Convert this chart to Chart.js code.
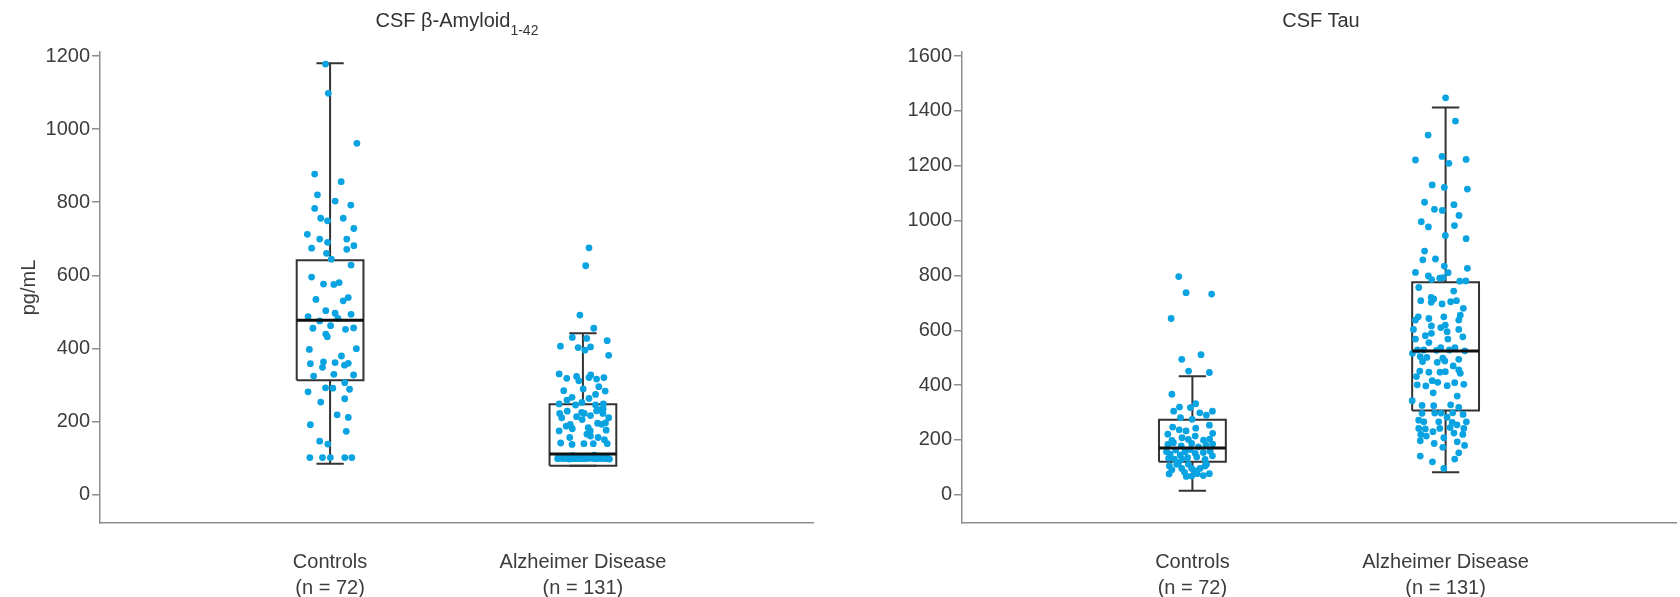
<!DOCTYPE html>
<html>
<head>
<meta charset="utf-8">
<script src="https://cdn.jsdelivr.net/npm/chart.js@4.4.1/dist/chart.umd.min.js"></script>
<style>
    html, body { margin: 0; padding: 0; background: #fff; }
    #wrap { position: relative; width: 1680px; height: 597px; overflow: hidden;
            font-family: "Liberation Sans", Arial, sans-serif; color: #333; }
    canvas { position: absolute; top: 0; }
    .title { position: absolute; top: 9px; font-size: 20px; white-space: nowrap;
             transform: translateX(-50%); line-height: 23px; }
    .title .sub { font-size: 14px; position: relative; top: 8px; }
</style>
</head>
<body>
<div id="wrap">
    <canvas id="amyloid" width="830" height="597" style="left:0"></canvas>
    <canvas id="tau" width="840" height="597" style="left:840px"></canvas>
    <div class="title" style="left:457px">CSF β-Amyloid<span class="sub">1-42</span></div>
    <div class="title" style="left:1321px">CSF Tau</div>
</div>
<script>
'use strict';

const categories = ['Controls', 'Alzheimer Disease'];
const groupSizes = ['(n = 72)', '(n = 131)'];

const amyloidTicks = [0, 200, 400, 600, 800, 1000, 1200];
const tauTicks = [0, 200, 400, 600, 800, 1000, 1200, 1400, 1600];

// box stats: [lower whisker, q1, median, q3, upper whisker]
const amyloidBoxControls = [84, 313, 477, 641, 1180];
const amyloidBoxAD = [79, 79, 111, 247, 441];
const tauBoxControls = [15, 120, 171, 274, 432];
const tauBoxAD = [82, 307, 524, 775, 1413];

// individual subjects (pg/mL) and their horizontal jitter around the category
const amyloidControls = [1178, 1098, 961, 877, 856, 820, 803, 792, 783, 756,
    749, 756, 728, 712, 699, 690, 699, 674, 660, 671,
    681, 644, 628, 595, 576, 575, 580, 534, 530, 539,
    487, 503, 496, 482, 493, 475, 455, 462, 452, 456,
    439, 432, 397, 399, 379, 358, 363, 348, 361, 354,
    359, 324, 329, 327, 306, 281, 292, 291, 288, 253,
    262, 218, 211, 191, 173, 146, 138, 101, 101, 101,
    101, 101];
const amyloidControlsJitter = [-0.018, -0.007, 0.106, -0.061, 0.044, -0.050, 0.020, 0.082, -0.061, -0.037,
    -0.010, 0.052, 0.094, -0.090, -0.041, -0.010, 0.066, -0.073, -0.014, 0.066,
    0.094, 0.005, 0.083, -0.073, -0.026, 0.015, 0.036, -0.056, 0.052, 0.072,
    -0.087, -0.017, 0.020, 0.031, 0.083, -0.041, -0.068, 0.002, 0.061, 0.093,
    -0.017, -0.011, -0.082, 0.104, 0.045, -0.078, -0.026, -0.030, 0.020, 0.057,
    0.072, -0.065, 0.015, 0.093, 0.058, -0.087, -0.018, 0.011, 0.077, -0.037,
    0.058, 0.028, 0.072, -0.078, 0.064, -0.041, -0.009, -0.080, -0.030, 0.001,
    0.058, 0.086];

const amyloidAD = [675, 626, 491, 455, 430, 427, 406, 402, 395, 404,
    421, 381, 330, 318, 323, 311, 320, 327, 316, 320,
    284, 289, 283, 266, 263, 274, 248, 245, 248, 245,
    258, 295, 252,
    228, 222, 225, 222, 232, 234, 229, 210, 213, 216,
    222, 210, 192, 187, 205, 195, 192, 196, 174, 180,
    183, 174, 176, 156, 165, 160, 156, 150, 141, 137,
    139, 139, 139,
    98, 100, 99, 101, 98, 100, 102, 99, 97, 100,
    101, 98, 100, 99, 103, 100, 98, 101, 99, 100,
    98, 100, 102, 99, 101, 100, 97, 99, 100, 101,
    98, 100, 99, 102, 100, 98, 101, 100, 99, 100,
    104, 99, 101, 98, 100, 100, 102, 99, 98, 101,
    100, 99, 100, 98, 101, 103, 100, 99, 100, 98,
    101, 100, 99, 106, 108];
const amyloidADJitter = [0.024, 0.011, -0.012, 0.043, -0.042, 0.015, -0.089, -0.019, 0.008, 0.030,
    0.096, 0.102, -0.094, -0.064, -0.025, -0.016, 0.024, 0.031, 0.054, 0.083,
    -0.076, 0.001, 0.088, -0.043, 0.024, 0.050, -0.094, -0.029, 0.081, 0.050,
    -0.063, 0.063, -0.004,
    -0.062, -0.092, -0.005, 0.005, 0.067, 0.080, 0.054, -0.084, -0.025, 0.030,
    0.079, 0.102, -0.050, -0.066, -0.003, 0.058, 0.074, 0.089, -0.094, -0.042,
    0.021, 0.029, 0.092, -0.052, 0.016, 0.030, 0.060, 0.085, -0.088, -0.043,
    0.004, 0.041, 0.096,
    -0.100, -0.074, -0.048, -0.022, 0.004, 0.030, 0.056, 0.082, 0.105, -0.087,
    -0.061, -0.035, -0.009, 0.017, 0.043, 0.069, 0.095, -0.095, -0.068, -0.042,
    -0.015, 0.010, 0.036, 0.062, 0.088, -0.080, -0.054, -0.028, -0.002, 0.024,
    0.050, 0.076, 0.100, -0.092, -0.066, -0.040, -0.014, 0.012, 0.038, 0.064,
    0.090, -0.083, -0.057, -0.031, -0.005, 0.021, 0.047, 0.073, 0.098, -0.097,
    -0.071, -0.045, -0.019, 0.007, 0.033, 0.059, 0.085, -0.077, -0.051, -0.025,
    0.001, 0.027, 0.053, -0.040, 0.045];

const tauControls = [796, 737, 732, 643, 494, 511, 451, 446, 367, 305,
    320, 318, 332, 299, 305, 281, 275, 290,
    247, 237, 233, 243, 254, 224, 221, 198, 208, 202,
    214, 199, 203, 184, 190, 178, 187, 175, 181, 185,
    157, 148, 163, 145, 157, 165, 151, 154, 159, 142,
    133, 130, 135, 138, 129, 130,
    105, 111, 82, 68, 77, 105, 77, 76, 67, 96,
    96, 111, 115, 91, 87, 96, 111, 70];
const tauControlsJitter = [-0.054, -0.025, 0.076, -0.084, -0.042, 0.034, -0.015, 0.067, -0.081, -0.074,
    -0.051, -0.008, 0.013, 0.029, 0.079, -0.047, -0.001, 0.055,
    -0.078, -0.052, -0.025, 0.013, 0.067, 0.080, -0.097, -0.081, -0.041, -0.016,
    0.011, 0.044, 0.068, -0.097, -0.075, -0.044, -0.003, 0.024, 0.054, 0.080,
    -0.102, -0.088, -0.066, -0.048, -0.029, -0.009, 0.011, 0.043, 0.070, 0.079,
    -0.094, -0.071, -0.019, 0.017, 0.050, -0.042,
    -0.091, -0.062, -0.031, -0.003, 0.019, 0.050, 0.067, -0.092, -0.024, -0.003,
    0.030, 0.056, -0.055, -0.081, 0.011, -0.042, -0.016, 0.043];

const tauAD = [1448, 1363, 1312, 1221, 1234, 1209, 1223, 1130, 1121, 1115,
    1067, 1041, 1037, 1058, 1019, 996, 977, 982, 946, 934,
    889, 857, 860, 834, 826, 811, 798, 810, 790, 779,
    785, 792, 780,
    756, 743, 708, 720, 714, 702, 696, 704, 708, 637,
    649, 643, 649, 637, 655, 616, 610, 619, 603, 603,
    568, 589, 595, 568, 576, 555, 528, 528, 527, 537,
    528, 537, 525, 516, 504, 501, 483, 498, 488, 494,
    486, 451, 447, 447, 449, 455, 443, 431, 416, 410,
    409, 403, 397, 401, 398, 372, 360, 343, 326, 325,
    328, 319, 680, 470, 580,
    297, 298, 298, 299, 293, 272, 266, 266, 264, 266,
    242, 242, 245, 242, 240, 220, 214, 208, 225, 220,
    197, 187, 193, 173, 141, 120, 130, 153, 96, 283,
    255, 230, 180];
const tauADJitter = [0.000, 0.039, -0.069, -0.119, -0.014, 0.013, 0.081, -0.053, -0.005, 0.086,
    -0.083, -0.044, -0.013, 0.033, 0.053, -0.096, -0.068, 0.035, -0.001, 0.081,
    -0.083, -0.090, -0.040, -0.005, 0.086, -0.119, -0.068, 0.010, -0.023, 0.056,
    -0.055, -0.011, 0.080,
    -0.106, 0.032, -0.098, -0.057, -0.047, -0.057, -0.014, 0.020, 0.043, -0.119,
    -0.108, -0.066, -0.007, 0.052, 0.058, -0.056, -0.019, -0.001, -0.127, 0.052,
    -0.119, -0.056, 0.006, 0.009, 0.068, -0.066, -0.111, -0.086, -0.036, -0.019,
    0.015, 0.037, 0.076, -0.131, -0.100, -0.074, -0.033, -0.011, -0.003, 0.052,
    -0.091, -0.102, -0.066, -0.022, -0.001, 0.052, 0.058, -0.115, -0.053, -0.031,
    0.036, 0.072, -0.078, -0.112, 0.006, -0.049, 0.046, -0.132, -0.093, -0.047,
    0.020, 0.052, 0.070, 0.030, -0.080,
    -0.093, -0.043, -0.018, 0.028, 0.069, -0.106, -0.086, -0.027, 0.026, 0.082,
    -0.106, -0.023, 0.018, 0.072, -0.080, -0.098, -0.076, -0.007, 0.033, 0.068,
    -0.100, -0.045, 0.046, -0.011, -0.100, -0.052, 0.036, 0.052, -0.007, 0.006,
    0.045, -0.050, 0.075];

const FONT = { family: '"Liberation Sans", Arial, sans-serif', size: 20 };
const TEXT = '#3c3c3c';
const AXIS = '#8e8e8e';
const DOT = '#0aa3e2';
const BOX_HALF = 0.132;
const CAP_HALF = 0.054;

function lineSet(data, color, width, order) {
    return {
        type: 'line', data, borderColor: color, borderWidth: width,
        pointRadius: 0, showLine: true, fill: false, tension: 0,
        spanGaps: false, borderJoinStyle: 'miter', borderCapStyle: 'butt', order
    };
}

function boxDatasets(stats, xc) {
    const [mn, q1, md, q3, mx] = stats;
    const l = xc - BOX_HALF, r = xc + BOX_HALF;
    return [
        lineSet([{x: xc, y: mn}, {x: xc, y: q1}, {x: xc, y: null}, {x: xc, y: q3}, {x: xc, y: mx}], '#333', 2, 4),
        lineSet([{x: xc - CAP_HALF, y: mn}, {x: xc + CAP_HALF, y: mn}, {x: xc, y: null},
                 {x: xc - CAP_HALF, y: mx}, {x: xc + CAP_HALF, y: mx}], '#333', 2, 4),
        lineSet([{x: l, y: q1}, {x: r, y: q1}, {x: r, y: q3}, {x: l, y: q3}, {x: l, y: q1}], '#333', 2, 3),
        lineSet([{x: l, y: md}, {x: r, y: md}], '#111', 3, 0)
    ];
}

function dotSet(values, jitter, xc) {
    return {
        type: 'scatter',
        data: values.map((v, i) => ({x: xc + jitter[i], y: v})),
        backgroundColor: DOT, borderWidth: 0, pointRadius: 3.4, order: 1
    };
}

function makePanel(id, cfg) {
    const datasets = [
        ...boxDatasets(cfg.boxes[0], 1),
        ...boxDatasets(cfg.boxes[1], 2),
        dotSet(cfg.points[0], cfg.jitter[0], 1),
        dotSet(cfg.points[1], cfg.jitter[1], 2)
    ];
    return new Chart(document.getElementById(id), {
        type: 'scatter',
        data: { datasets },
        options: {
            responsive: false,
            animation: false,
            events: [],
            layout: { padding: { top: 52, right: cfg.padRight, left: 0, bottom: 0 } },
            plugins: { legend: { display: false }, tooltip: { enabled: false } },
            scales: {
                x: {
                    type: 'linear', min: 0.09, max: 2.91,
                    afterFit: s => { s.height = 74; },
                    afterBuildTicks: s => { s.ticks = [{value: 1}, {value: 2}]; },
                    ticks: {
                        callback: v => [categories[v - 1], groupSizes[v - 1]],
                        font: { ...FONT, lineHeight: 1.3 }, color: TEXT, padding: 26,
                        maxRotation: 0, autoSkip: false
                    },
                    grid: { display: false, drawTicks: false },
                    border: { display: true, color: AXIS, width: 1.5 }
                },
                y: {
                    min: cfg.yMin, max: cfg.yMax,
                    afterFit: s => { s.width = cfg.axisWidth; },
                    afterBuildTicks: s => { s.ticks = cfg.ticks.map(v => ({value: v})); },
                    ticks: { font: FONT, color: TEXT, padding: 2, callback: v => String(v) },
                    grid: { drawOnChartArea: false, drawTicks: true, tickLength: 8, color: AXIS, lineWidth: 1.5 },
                    border: { display: true, color: AXIS, width: 1.5 },
                    title: {
                        display: !!cfg.yTitle, text: cfg.yTitle || '',
                        font: { ...FONT, lineHeight: 1.2 }, color: TEXT, padding: { top: 17 }
                    }
                }
            }
        }
    });
}

makePanel('amyloid', {
    boxes: [amyloidBoxControls, amyloidBoxAD],
    points: [amyloidControls, amyloidAD],
    jitter: [amyloidControlsJitter, amyloidADJitter],
    ticks: amyloidTicks, yMin: -78, yMax: 1211,
    axisWidth: 100, padRight: 17, yTitle: 'pg/mL'
});

makePanel('tau', {
    boxes: [tauBoxControls, tauBoxAD],
    points: [tauControls, tauAD],
    jitter: [tauControlsJitter, tauADJitter],
    ticks: tauTicks, yMin: -103, yMax: 1615,
    axisWidth: 122, padRight: 1
});
</script>
</body>
</html>
